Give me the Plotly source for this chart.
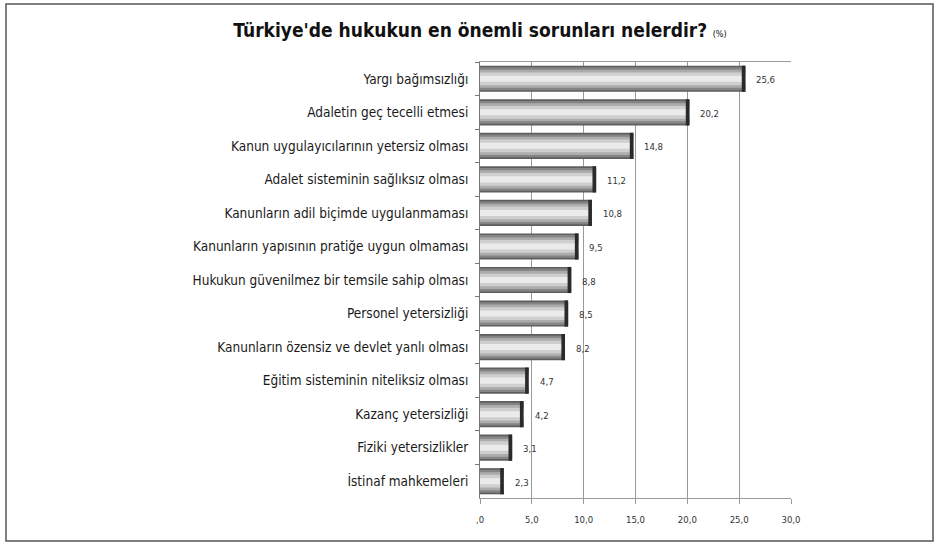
import plotly.graph_objects as go

categories = [
    "Yargı bağımsızlığı",
    "Adaletin geç tecelli etmesi",
    "Kanun uygulayıcılarının yetersiz olması",
    "Adalet sisteminin sağlıksız olması",
    "Kanunların adil biçimde uygulanmaması",
    "Kanunların yapısının pratiğe uygun olmaması",
    "Hukukun güvenilmez bir temsile sahip olması",
    "Personel yetersizliği",
    "Kanunların özensiz ve devlet yanlı olması",
    "Eğitim sisteminin niteliksiz olması",
    "Kazanç yetersizliği",
    "Fiziki yetersizlikler",
    "İstinaf mahkemeleri",
]
values = [25.6, 20.2, 14.8, 11.2, 10.8, 9.5, 8.8, 8.5, 8.2, 4.7, 4.2, 3.1, 2.3]
value_labels = ["25,6", "20,2", "14,8", "11,2", "10,8", "9,5", "8,8", "8,5", "8,2", "4,7", "4,2", "3,1", "2,3"]
tick_vals = [0, 5, 10, 15, 20, 25, 30]
tick_text = [",0", "5,0", "10,0", "15,0", "20,0", "25,0", "30,0"]

COND = "DejaVu Sans Condensed, Liberation Sans Narrow, sans-serif"

fig = go.Figure()

# layered bars to imitate the cylindrical shading
layers = [
    (0.78, "#5e5e5e"),
    (0.68, "#858585"),
    (0.54, "#acacac"),
    (0.38, "#cfcfcf"),
    (0.18, "#ebebeb"),
]
for w, c in layers:
    fig.add_trace(go.Bar(
        y=categories, x=values, orientation="h", width=w,
        marker=dict(color=c, line=dict(width=0)),
        hoverinfo="skip", showlegend=False,
    ))

# dark end cap
cap = 0.35
fig.add_trace(go.Bar(
    y=categories, x=[cap] * len(values), base=[v - cap for v in values],
    orientation="h", width=0.78,
    marker=dict(color="#2a2a2a", line=dict(width=0)),
    hoverinfo="skip", showlegend=False,
))

annotations = [
    dict(x=v, y=c, text=t, xref="x", yref="y", showarrow=False,
         xanchor="left", xshift=9, yshift=-1,
         font=dict(family=COND, size=9.5, color="#333333"))
    for c, v, t in zip(categories, values, value_labels)
]

fig.update_layout(
    width=941, height=553,
    barmode="overlay",
    paper_bgcolor="white", plot_bgcolor="white",
    margin=dict(l=480, r=150, t=62, b=55),
    title=dict(
        text="<b>Türkiye'de hukukun en önemli sorunları nelerdir?</b> <span style='font-size:9px'>(%)</span>",
        x=0.51, xanchor="center", y=0.945, yanchor="middle",
        font=dict(family=COND, size=19, color="#111111"),
    ),
    xaxis=dict(
        range=[0, 30], tickvals=tick_vals, ticktext=tick_text,
        showgrid=True, gridcolor="#9a9a9a", gridwidth=1,
        showline=True, linecolor="#9a9a9a", mirror=True,
        ticks="outside", ticklen=5, tickcolor="#9a9a9a",
        ticklabelstandoff=8,
        tickfont=dict(family=COND, size=9.5, color="#333333"),
        zeroline=False, fixedrange=True,
    ),
    yaxis=dict(
        autorange="reversed",
        showline=True, linecolor="#777777",
        ticks="outside", ticklen=4, tickcolor="#777777", tickson="boundaries",
        ticklabelstandoff=8,
        tickfont=dict(family=COND, size=13.5, color="#1a1a1a"),
        showgrid=False, fixedrange=True,
    ),
    annotations=annotations,
    shapes=[
        dict(type="rect", xref="paper", yref="paper",
             x0=(6 - 480) / 311, x1=(933 - 480) / 311,
             y0=(498 - 541) / 436, y1=(498 - 4) / 436,
             line=dict(color="#555555", width=1.5), layer="below"),
    ],
)

fig.write_html("out.html", config={"displayModeBar": False},
               post_script="document.body.style.margin='0';")
